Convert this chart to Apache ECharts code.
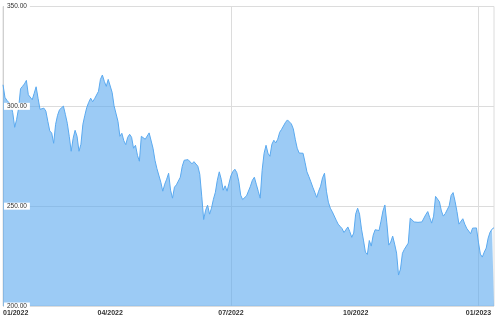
<!DOCTYPE html>
<html><head><meta charset="utf-8">
<script src="https://cdn.jsdelivr.net/npm/echarts@6/dist/echarts.min.js"></script>
<style>html,body{margin:0;padding:0;background:#fff}#c{width:500px;height:321px}</style>
</head><body><div id="c"></div>
<script>
// trading-day range shown
const startDate = '2022-01-12';
const endDate = '2023-01-13';
const marketHolidays = ['2022-01-17','2022-02-21','2022-04-15','2022-05-30','2022-06-20','2022-07-04','2022-09-05','2022-11-24','2022-12-26','2023-01-02'];

// closing values, per quarter
const pricesQ1 = [310.8,304.5,303.0,302.3,300.8,296.8,289.5,293.5,299.0,308.8,310.0,311.2,313.0,305.8,304.8,303.3,306.5,309.8,304.0,298.5,297.5,299.1,297.6,292.5,287.7,286.6,281.5,291.0,295.5,298.3,297.6,300.1,296.0,291.5,285.0,277.5,284.0,288.0,285.0,277.5,281.0,291.0,295.5,299.5,302.0,304.1,302.3,303.8,304.0,307.5,313.5,315.7,312.5,310.0,313.5];
const pricesQ2 = [313.5,307.0,300.3,300.7,292.5,285.0,286.5,282.8,280.8,284.5,286.0,284.5,279.0,280.5,275.5,272.5,285.0,284.0,283.5,283.3,286.7,287.5,279.0,273.0,268.8,269.0,262.0,257.5,261.0,263.5,266.5,258.0,254.0,259.5,260.7,260.5,264.5,270.0,273.0,272.5,273.3,274.0,271.2,272.3,272.6,270.0,266.0,255.0,243.3,248.0,250.5,246.0,249.0,253.5,257.0,263.0,267.2,263.5,258.0,260.2,257.5,261.5];
const pricesQ3 = [265.3,267.4,268.5,266.8,262.5,255.5,253.3,254.1,255.2,256.0,260.0,263.0,264.5,261.0,257.5,254.0,268.0,276.5,280.5,276.5,275.0,281.0,283.0,281.7,283.5,287.0,288.5,289.5,292.0,293.2,292.2,291.2,288.7,283.5,279.0,276.6,277.5,276.5,272.0,267.2,264.8,262.2,259.5,257.0,254.4,257.5,260.0,264.2,266.5,257.5,252.0,249.0,247.2,246.2,243.0,241.0,239.9,238.8,236.8,237.5,239.6,237.2,234.4,236.5];
const pricesQ4 = [246.0,249.0,246.0,238.5,233.0,227.0,225.8,232.8,230.0,235.5,238.2,237.3,237.8,242.5,247.6,250.6,241.6,230.5,232.0,235.0,231.0,226.5,215.5,218.5,226.4,228.4,228.0,231.5,244.0,243.5,242.1,242.0,241.9,241.6,242.1,243.0,245.8,247.3,244.3,241.5,245.0,254.9,254.9,252.2,247.6,245.0,246.3,246.0,250.2,255.4,256.8,252.5,247.3,241.0,241.7,243.7,241.0,238.9,237.9,236.2,239.0,240.0,239.1];
const pricesJan23 = [232.0,226.0,224.5,227.0,229.0,234.0,237.0,238.5,239.2];

const yMin = 200, yMax = 350, yStep = 50;

function fmt(d){const m=d.getUTCMonth()+1, dd=d.getUTCDate();return d.getUTCFullYear()+'-'+(m<10?'0':'')+m+'-'+(dd<10?'0':'')+dd;}
const dates = [];
for (let d = new Date(startDate+'T00:00:00Z'); d <= new Date(endDate+'T00:00:00Z'); d.setUTCDate(d.getUTCDate()+1)) {
  const wd = d.getUTCDay(); const s = fmt(d);
  if (wd === 0 || wd === 6 || marketHolidays.includes(s)) continue;
  dates.push(s);
}
const prices = [].concat(pricesQ1, pricesQ2, pricesQ3, pricesQ4, pricesJan23);

const labelIdx = new Set([0]);
const splitIdx = new Set();
for (let i = 1; i < dates.length; i++) {
  const m = +dates[i].slice(5,7), pm = +dates[i-1].slice(5,7);
  if (m !== pm && [1,4,7,10].includes(m)) { labelIdx.add(i); if (m===1||m===7) splitIdx.add(i); }
}

const chart = echarts.init(document.getElementById('c'), null, {renderer:'canvas'});
const labelFont = 'Arial, "Liberation Sans", sans-serif';
chart.setOption({
  animation: false,
  grid: {left: 3, right: 6, top: 6.5, bottom: 15, show: true, borderColor: '#dcdcdc', borderWidth: 1},
  xAxis: {
    type: 'category', data: dates, boundaryGap: false,
    axisLine: {show: false}, axisTick: {show: false},
    axisLabel: {
      interval: (i) => labelIdx.has(i), alignMinLabel: 'left',
      formatter: (v) => v.slice(5,7) + '/' + v.slice(0,4),
      fontSize: 7, color: '#333', fontWeight: 'bold', fontFamily: labelFont, margin: 4
    },
    splitLine: {show: true, interval: (i) => splitIdx.has(i), lineStyle: {color: '#dcdcdc', width: 1}}
  },
  yAxis: [{
    type: 'value', min: yMin, max: yMax, interval: yStep,
    axisLine: {show: true, lineStyle: {color: '#d0d0d0'}}, axisTick: {show: false},
    axisLabel: {show: false},
    splitLine: {show: true, lineStyle: {color: '#dcdcdc', width: 1}}
  }, {
    type: 'value', min: yMin, max: yMax, interval: yStep, position: 'left', z: 10,
    axisLine: {show: false}, axisTick: {show: false}, splitLine: {show: false},
    axisLabel: {inside: true, margin: 1, formatter: (v) => v.toFixed(2), fontSize: 6.5, color: '#333',
      fontFamily: labelFont, backgroundColor: '#fff', padding: [0, 3], verticalAlign: 'middle'}
  }],
  series: [{
    type: 'line', data: prices, yAxisIndex: 0, showSymbol: false, symbol: 'none',
    lineStyle: {color: '#5aa9ef', width: 1},
    areaStyle: {color: '#5aa9ef', opacity: 0.6, origin: 'start'}
  }]
});
</script></body></html>
